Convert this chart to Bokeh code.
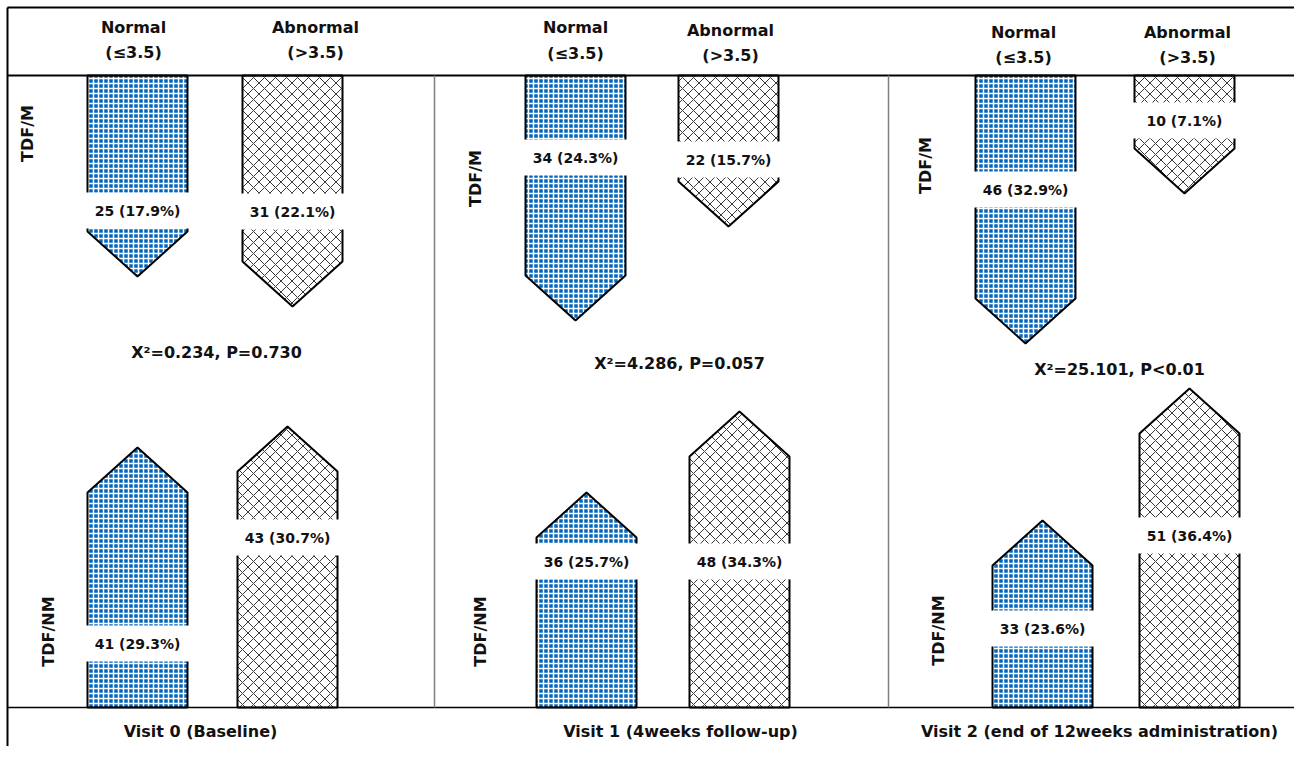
import math
from bokeh.plotting import figure
from bokeh.models import Range1d
from bokeh.core.properties import value
from bokeh.embed import file_html
from bokeh.resources import INLINE

# ---------------- data ----------------
visits = ["Visit 0 (Baseline)", "Visit 1 (4weeks follow-up)",
          "Visit 2 (end of 12weeks administration)"]
chi_labels = ["X\u00b2=0.234, P=0.730", "X\u00b2=4.286, P=0.057", "X\u00b2=25.101, P<0.01"]
groups = ["Normal", "Abnormal"]
group_limits = ["(\u22643.5)", "(>3.5)"]
rows = ["TDF/M", "TDF/NM"]

m_normal_n = [25, 34, 46]
m_normal_pct = [17.9, 24.3, 32.9]
m_abn_n = [31, 22, 10]
m_abn_pct = [22.1, 15.7, 7.1]
nm_normal_n = [41, 36, 33]
nm_normal_pct = [29.3, 25.7, 23.6]
nm_abn_n = [43, 48, 51]
nm_abn_pct = [30.7, 34.3, 36.4]

# arrow reach (drawn length in px)
m_normal_reach = [201, 245, 268]
m_abn_reach = [231, 151, 118]
nm_normal_reach = [260, 215, 187]
nm_abn_reach = [281, 296, 319]

# ---------------- layout ----------------
W, H = 1294, 746
TOP, BASE = 75, 707
HEAD = 45
BW = 100
m_normal_left = [87, 525, 975]
m_abn_left = [242, 678, 1134]
nm_normal_left = [87, 536, 992]
nm_abn_left = [237, 689, 1139]
m_normal_lab_y = [210, 157, 189]
m_abn_lab_y = [211, 159, 120]
nm_normal_lab_y = [643, 561, 628]
nm_abn_lab_y = [537, 561, 535]

p = figure(width=W, height=H, output_backend="svg", toolbar_location=None,
           x_range=Range1d(0, W), y_range=Range1d(H, 0),
           x_axis_type=None, y_axis_type=None, min_border=0)
p.grid.visible = False
p.outline_line_color = None
p.background_fill_color = "white"

FONT = value("DejaVu Sans")

def down_arrow(left, reach):
    tip = TOP + reach
    sh = tip - HEAD
    xs = [left, left + BW, left + BW, left + BW / 2, left]
    ys = [TOP, TOP, sh, tip, sh]
    return xs, ys

def up_arrow(left, reach):
    tip = BASE - reach
    sh = tip + HEAD
    xs = [left, left + BW, left + BW, left + BW / 2, left]
    ys = [BASE, BASE, sh, tip, sh]
    return xs, ys

blue_xs, blue_ys, hat_xs, hat_ys = [], [], [], []
for i in range(3):
    x, y = down_arrow(m_normal_left[i], m_normal_reach[i]); blue_xs.append(x); blue_ys.append(y)
    x, y = up_arrow(nm_normal_left[i], nm_normal_reach[i]); blue_xs.append(x); blue_ys.append(y)
    x, y = down_arrow(m_abn_left[i], m_abn_reach[i]); hat_xs.append(x); hat_ys.append(y)
    x, y = up_arrow(nm_abn_left[i], nm_abn_reach[i]); hat_xs.append(x); hat_ys.append(y)

p.patches(blue_xs, blue_ys, fill_color="#0066bd", line_color="black", line_width=2,
          hatch_pattern="+", hatch_color="white", hatch_scale=5, hatch_weight=1.5)
p.patches(hat_xs, hat_ys, fill_color="white", line_color="black", line_width=2,
          hatch_pattern="x", hatch_color="#383838", hatch_scale=11, hatch_weight=1)

# label gaps + labels
lab_x, lab_y, lab_t = [], [], []
for i in range(3):
    for left, ly, n, pc in [(m_normal_left[i], m_normal_lab_y[i], m_normal_n[i], m_normal_pct[i]),
                            (m_abn_left[i], m_abn_lab_y[i], m_abn_n[i], m_abn_pct[i]),
                            (nm_normal_left[i], nm_normal_lab_y[i], nm_normal_n[i], nm_normal_pct[i]),
                            (nm_abn_left[i], nm_abn_lab_y[i], nm_abn_n[i], nm_abn_pct[i])]:
        lab_x.append(left + BW / 2)
        lab_y.append(ly)
        lab_t.append(f"{n} ({pc}%)")
gap_l = [x - BW / 2 - 3 for x in lab_x]
gap_r = [x + BW / 2 + 3 for x in lab_x]
gap_t = [y - 18 for y in lab_y]
gap_b = [y + 18 for y in lab_y]
p.quad(left=gap_l, right=gap_r, top=gap_t, bottom=gap_b, fill_color="white", line_color=None)
p.text(lab_x, lab_y, text=lab_t, text_font=FONT, text_font_style="bold",
       text_font_size="14px", text_align="center", text_baseline="middle", text_color="#111111")

# frame lines
p.segment(x0=[7], y0=[7], x1=[W], y1=[7], line_color="black", line_width=2)
p.segment(x0=[7], y0=[7], x1=[7], y1=[H], line_color="black", line_width=2)
p.segment(x0=[7], y0=[TOP], x1=[W], y1=[TOP], line_color="black", line_width=2)
p.segment(x0=[7], y0=[BASE], x1=[W], y1=[BASE], line_color="black", line_width=1.5)
p.segment(x0=[434, 888], y0=[TOP, TOP], x1=[434, 888], y1=[BASE, BASE],
          line_color="#7f7f7f", line_width=1.5)

# header
hx = [133, 315, 575, 730, 1023, 1187]
hy1 = [27, 27, 27, 30, 32, 32]
hy2 = [52, 52, 53, 55, 57, 57]
ht1 = [groups[0], groups[1]] * 3
ht2 = [group_limits[0], group_limits[1]] * 3
p.text(hx, hy1, text=ht1, text_font=FONT, text_font_style="bold", text_font_size="16px",
       text_align="center", text_baseline="middle", text_color="#111111")
p.text(hx, hy2, text=ht2, text_font=FONT, text_font_style="bold", text_font_size="16px",
       text_align="center", text_baseline="middle", text_color="#111111")

# row labels
rx = [27, 475, 925, 48, 480, 938]
ry = [133, 178, 165, 631, 631, 630]
rt = [rows[0]] * 3 + [rows[1]] * 3
p.text(rx, ry, text=rt, angle=math.pi / 2, text_font=FONT, text_font_style="bold",
       text_font_size="16px", text_align="center", text_baseline="middle", text_color="#111111")

# chi-square
p.text([216, 679, 1119], [352, 363, 369], text=chi_labels, text_font=FONT,
       text_font_style="bold", text_font_size="16px", text_align="center",
       text_baseline="middle", text_color="#111111")

# bottom labels (kept inside the 746px-high page)
p.text([200, 680, 1099], [731, 731, 731], text=visits, text_font=FONT,
       text_font_style="bold", text_font_size="16px", text_align="center",
       text_baseline="middle", text_color="#111111")

open("out.html", "w").write(file_html(p, INLINE))
